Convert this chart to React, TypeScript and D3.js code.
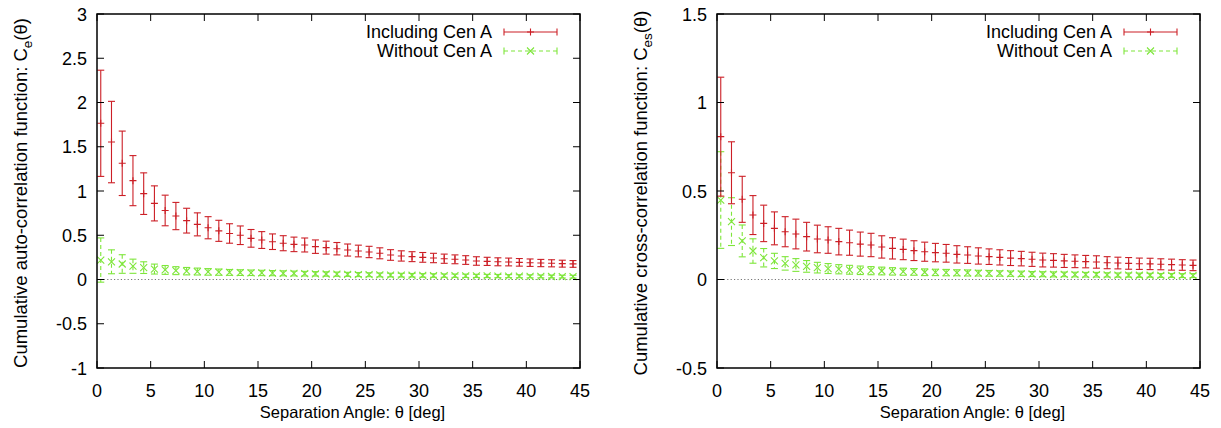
import React from "react";
import * as d3 from "d3";

const theta = [0.35, 1.35, 2.35, 3.35, 4.35, 5.35, 6.35, 7.35, 8.35, 9.35, 10.35, 11.35, 12.35, 13.35, 14.35, 15.35, 16.35, 17.35, 18.35, 19.35, 20.35, 21.35, 22.35, 23.35, 24.35, 25.35, 26.35, 27.35, 28.35, 29.35, 30.35, 31.35, 32.35, 33.35, 34.35, 35.35, 36.35, 37.35, 38.35, 39.35, 40.35, 41.35, 42.35, 43.35, 44.35];

const autoWith = [1.765, 1.553, 1.313, 1.117, 0.97, 0.86, 0.78, 0.717, 0.665, 0.623, 0.585, 0.55, 0.52, 0.5, 0.465, 0.446, 0.427, 0.41, 0.397, 0.39, 0.371, 0.36, 0.348, 0.333, 0.322, 0.311, 0.296, 0.277, 0.266, 0.258, 0.25, 0.243, 0.235, 0.228, 0.22, 0.209, 0.205, 0.2, 0.198, 0.194, 0.19, 0.186, 0.183, 0.179, 0.176];
const autoWithErr = [0.6, 0.46, 0.364, 0.283, 0.235, 0.198, 0.173, 0.154, 0.14, 0.13, 0.125, 0.119, 0.11, 0.105, 0.1, 0.095, 0.088, 0.085, 0.082, 0.079, 0.076, 0.073, 0.07, 0.068, 0.066, 0.064, 0.062, 0.06, 0.058, 0.056, 0.055, 0.053, 0.052, 0.05, 0.049, 0.048, 0.046, 0.045, 0.044, 0.043, 0.042, 0.041, 0.04, 0.039, 0.038];
const autoWithout = [0.22, 0.2, 0.175, 0.15, 0.134, 0.118, 0.108, 0.1, 0.094, 0.09, 0.086, 0.083, 0.08, 0.078, 0.076, 0.074, 0.072, 0.07, 0.068, 0.066, 0.064, 0.062, 0.06, 0.058, 0.056, 0.054, 0.052, 0.05, 0.049, 0.048, 0.046, 0.045, 0.044, 0.043, 0.042, 0.041, 0.04, 0.039, 0.038, 0.037, 0.036, 0.035, 0.034, 0.033, 0.032];
const autoWithoutErr = [0.25, 0.135, 0.105, 0.08, 0.066, 0.056, 0.05, 0.045, 0.042, 0.039, 0.037, 0.035, 0.033, 0.032, 0.031, 0.03, 0.029, 0.028, 0.027, 0.026, 0.025, 0.025, 0.024, 0.023, 0.023, 0.022, 0.022, 0.021, 0.021, 0.02, 0.02, 0.02, 0.019, 0.019, 0.019, 0.018, 0.018, 0.018, 0.017, 0.017, 0.017, 0.016, 0.016, 0.016, 0.016];

const crossWith = [0.807, 0.603, 0.453, 0.364, 0.317, 0.289, 0.27, 0.257, 0.242, 0.229, 0.223, 0.214, 0.208, 0.2, 0.195, 0.184, 0.176, 0.17, 0.163, 0.157, 0.152, 0.148, 0.142, 0.138, 0.133, 0.129, 0.125, 0.121, 0.118, 0.114, 0.11, 0.108, 0.105, 0.103, 0.101, 0.099, 0.095, 0.093, 0.091, 0.089, 0.088, 0.086, 0.084, 0.082, 0.08];
const crossWithErr = [0.336, 0.175, 0.13, 0.11, 0.103, 0.093, 0.085, 0.084, 0.081, 0.078, 0.075, 0.075, 0.071, 0.068, 0.066, 0.063, 0.06, 0.058, 0.056, 0.054, 0.052, 0.05, 0.049, 0.047, 0.046, 0.044, 0.043, 0.042, 0.041, 0.04, 0.039, 0.038, 0.037, 0.036, 0.035, 0.035, 0.034, 0.033, 0.033, 0.032, 0.032, 0.031, 0.031, 0.03, 0.03];
const crossWithout = [0.449, 0.327, 0.218, 0.161, 0.123, 0.105, 0.091, 0.082, 0.074, 0.067, 0.062, 0.058, 0.055, 0.052, 0.05, 0.048, 0.046, 0.044, 0.043, 0.041, 0.04, 0.039, 0.038, 0.037, 0.036, 0.035, 0.034, 0.033, 0.032, 0.031, 0.03, 0.029, 0.029, 0.028, 0.027, 0.027, 0.026, 0.025, 0.025, 0.024, 0.024, 0.023, 0.023, 0.022, 0.022];
const crossWithoutErr = [0.273, 0.135, 0.09, 0.069, 0.052, 0.043, 0.038, 0.036, 0.033, 0.03, 0.028, 0.026, 0.025, 0.024, 0.023, 0.022, 0.021, 0.02, 0.019, 0.019, 0.018, 0.018, 0.017, 0.017, 0.016, 0.016, 0.015, 0.015, 0.015, 0.014, 0.014, 0.014, 0.013, 0.013, 0.013, 0.013, 0.012, 0.012, 0.012, 0.012, 0.011, 0.011, 0.011, 0.011, 0.011];

const xTicks = [0, 5, 10, 15, 20, 25, 30, 35, 40, 45];
const autoYTicks = [-1, -0.5, 0, 0.5, 1, 1.5, 2, 2.5, 3];
const crossYTicks = [-0.5, 0, 0.5, 1, 1.5];
const seriesNames = ["Including Cen A", "Without Cen A"];

const RED = "#cc1f26";
const GREEN = "#7ee63a";
const FONT = "'Liberation Sans', Arial, Helvetica, sans-serif";

type PanelProps = {
  left: number;
  right: number;
  yDomain: [number, number];
  yTicks: number[];
  withV: number[];
  withE: number[];
  withoutV: number[];
  withoutE: number[];
  sub: string;
  labelMain: string;
  labelX: number;
};

function Panel(p: PanelProps) {
  const top = 14;
  const bottom = 368;
  const x = d3.scaleLinear().domain([0, 45]).range([p.left, p.right]);
  const y = d3.scaleLinear().domain(p.yDomain).range([bottom, top]);
  const tl = 7;
  const cap = 3.5;
  const m = 3.5;

  const bars = (vals: number[], errs: number[], color: string, dashed: boolean, marker: "plus" | "x") =>
    vals.map((v, i) => {
      const cx = x(theta[i]);
      const cy = y(v);
      const y1 = y(v + errs[i]);
      const y2 = y(v - errs[i]);
      return (
        <g key={i} stroke={color} strokeWidth={1.1} fill="none">
          <line x1={cx} x2={cx} y1={y1} y2={y2} strokeDasharray={dashed ? "4,3" : undefined} />
          <line x1={cx - cap} x2={cx + cap} y1={y1} y2={y1} />
          <line x1={cx - cap} x2={cx + cap} y1={y2} y2={y2} />
          {marker === "plus" ? (
            <path d={`M${cx - m},${cy}H${cx + m}M${cx},${cy - m}V${cy + m}`} />
          ) : (
            <path d={`M${cx - m},${cy - m}L${cx + m},${cy + m}M${cx - m},${cy + m}L${cx + m},${cy - m}`} />
          )}
        </g>
      );
    });

  const legX2 = p.right - 23;
  const legX1 = legX2 - 53;
  const legTextX = p.right - 88;
  const legRows = [32, 51];
  const midY = (top + bottom) / 2;

  return (
    <g fontFamily={FONT} fontSize={18} fill="#000">
      <line x1={p.left} x2={p.right} y1={y(0)} y2={y(0)} stroke="#777" strokeWidth={1} strokeDasharray="1.2,2.2" />
      {bars(p.withoutV, p.withoutE, GREEN, true, "x")}
      {bars(p.withV, p.withE, RED, false, "plus")}
      {xTicks.map((t) => (
        <g key={"xt" + t}>
          <line x1={x(t)} x2={x(t)} y1={bottom} y2={bottom - tl} stroke="#000" />
          <line x1={x(t)} x2={x(t)} y1={top} y2={top + tl} stroke="#000" />
          <text x={x(t)} y={397} textAnchor="middle">{t}</text>
        </g>
      ))}
      {p.yTicks.map((t) => (
        <g key={"yt" + t}>
          <line x1={p.left} x2={p.left + tl} y1={y(t)} y2={y(t)} stroke="#000" />
          <line x1={p.right} x2={p.right - tl} y1={y(t)} y2={y(t)} stroke="#000" />
          <text x={p.left - 10} y={y(t) + 6.5} textAnchor="end">{t}</text>
        </g>
      ))}
      <rect x={p.left} y={top} width={p.right - p.left} height={bottom - top} fill="none" stroke="#000" strokeWidth={1.5} />
      {seriesNames.map((name, k) => {
        const ly = legRows[k];
        const color = k === 0 ? RED : GREEN;
        const mx = (legX1 + legX2) / 2;
        return (
          <g key={name}>
            <text x={legTextX} y={ly + 6} textAnchor="end" fontSize={18}>{name}</text>
            <g stroke={color} strokeWidth={1.1} fill="none">
              <line x1={legX1} x2={legX2} y1={ly} y2={ly} strokeDasharray={k === 1 ? "4,3" : undefined} />
              <line x1={legX1} x2={legX1} y1={ly - cap} y2={ly + cap} />
              <line x1={legX2} x2={legX2} y1={ly - cap} y2={ly + cap} />
              {k === 0 ? (
                <path d={`M${mx - m},${ly}H${mx + m}M${mx},${ly - m}V${ly + m}`} />
              ) : (
                <path d={`M${mx - m},${ly - m}L${mx + m},${ly + m}M${mx - m},${ly + m}L${mx + m},${ly - m}`} />
              )}
            </g>
          </g>
        );
      })}
      <text x={(p.left + p.right) / 2 + 14} y={418} textAnchor="middle" fontSize={16.5}>Separation Angle: θ [deg]</text>
      <text transform={`translate(${p.labelX},${midY + 2}) rotate(-90)`} textAnchor="middle" fontSize={18.5}>
        {p.labelMain}C<tspan fontSize={13.5} dy={5}>{p.sub}</tspan><tspan dy={-5}>(θ)</tspan>
      </text>
    </g>
  );
}

export default function App() {
  return (
    <svg width={1221} height={428} style={{ position: "absolute", left: 0, top: 0, background: "#fff" }}>
      <rect width={1221} height={428} fill="#fff" />
      <Panel left={97} right={580} yDomain={[-1, 3]} yTicks={autoYTicks} withV={autoWith} withE={autoWithErr} withoutV={autoWithout} withoutE={autoWithoutErr} sub="e" labelMain="Cumulative auto-correlation function: " labelX={27} />
      <Panel left={717} right={1200} yDomain={[-0.5, 1.5]} yTicks={crossYTicks} withV={crossWith} withE={crossWithErr} withoutV={crossWithout} withoutE={crossWithoutErr} sub="es" labelMain="Cumulative cross-correlation function: " labelX={647} />
    </svg>
  );
}
